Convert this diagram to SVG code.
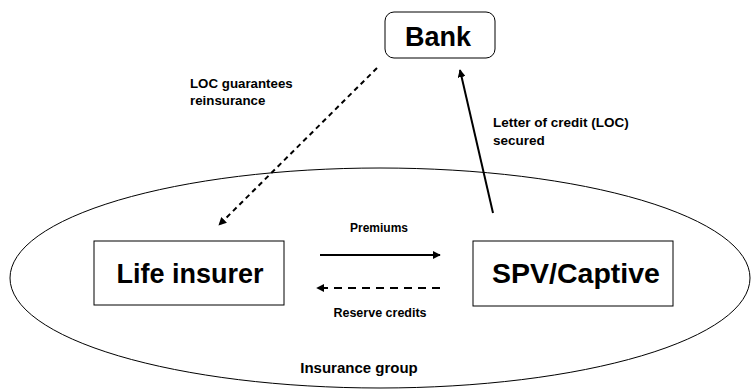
<svg xmlns="http://www.w3.org/2000/svg" width="752" height="391" viewBox="0 0 752 391">
<defs>
<style>
text{font-family:"Liberation Sans",Arial,sans-serif;font-weight:bold;fill:#000}
.big{text-anchor:middle}
.mid{text-anchor:middle}
.box{fill:#fff;stroke:#000;stroke-width:1}
.conn{stroke:#000;stroke-width:2;fill:none}
.dash{stroke-dasharray:8,6}
.dash2{stroke-dasharray:5,4}
</style>
<marker id="ah" viewBox="0 0 10 10" refX="9" refY="5" markerWidth="4" markerHeight="4" orient="auto">
<path d="M0,0 L10,5 L0,10 z" fill="#000"/>
</marker>
</defs>
<rect width="752" height="391" fill="#fff"/>
<g id="group">
<ellipse cx="380" cy="278" rx="370" ry="110" fill="none" stroke="#000" stroke-width="1"/>
<text class="mid" x="359" y="373" style="font-size:15px">Insurance group</text>
</g>
<g id="bank">
<rect class="box" x="385" y="12" width="110" height="46" rx="9"/>
<text class="big" x="438" y="46" style="font-size:27px">Bank</text>
</g>
<g id="life">
<rect class="box" x="94" y="241" width="190" height="64"/>
<text class="big" x="190" y="283" style="font-size:27px">Life insurer</text>
</g>
<g id="spv">
<rect class="box" x="473" y="241" width="200" height="65"/>
<text class="big" x="576" y="283" style="font-size:28.5px">SPV/Captive</text>
</g>
<g id="connectors">
<line class="conn dash2" x1="377" y1="68" x2="219" y2="225" marker-end="url(#ah)"/>
<line class="conn" x1="493" y1="213" x2="460" y2="70" marker-end="url(#ah)"/>
<line class="conn" x1="320" y1="255" x2="440" y2="255" marker-end="url(#ah)"/>
<line class="conn dash" x1="440" y1="288" x2="317" y2="288" marker-end="url(#ah)"/>
</g>
<g id="labels">
<text x="190" y="88" style="font-size:13.3px">LOC guarantees</text>
<text x="190" y="105" style="font-size:13.3px">reinsurance</text>
<text x="493" y="127" style="font-size:13.5px">Letter of credit (LOC)</text>
<text x="493" y="145" style="font-size:13.5px">secured</text>
<text class="mid" x="379" y="232" style="font-size:12px">Premiums</text>
<text class="mid" x="380" y="317" style="font-size:12.5px">Reserve credits</text>
</g>
</svg>
